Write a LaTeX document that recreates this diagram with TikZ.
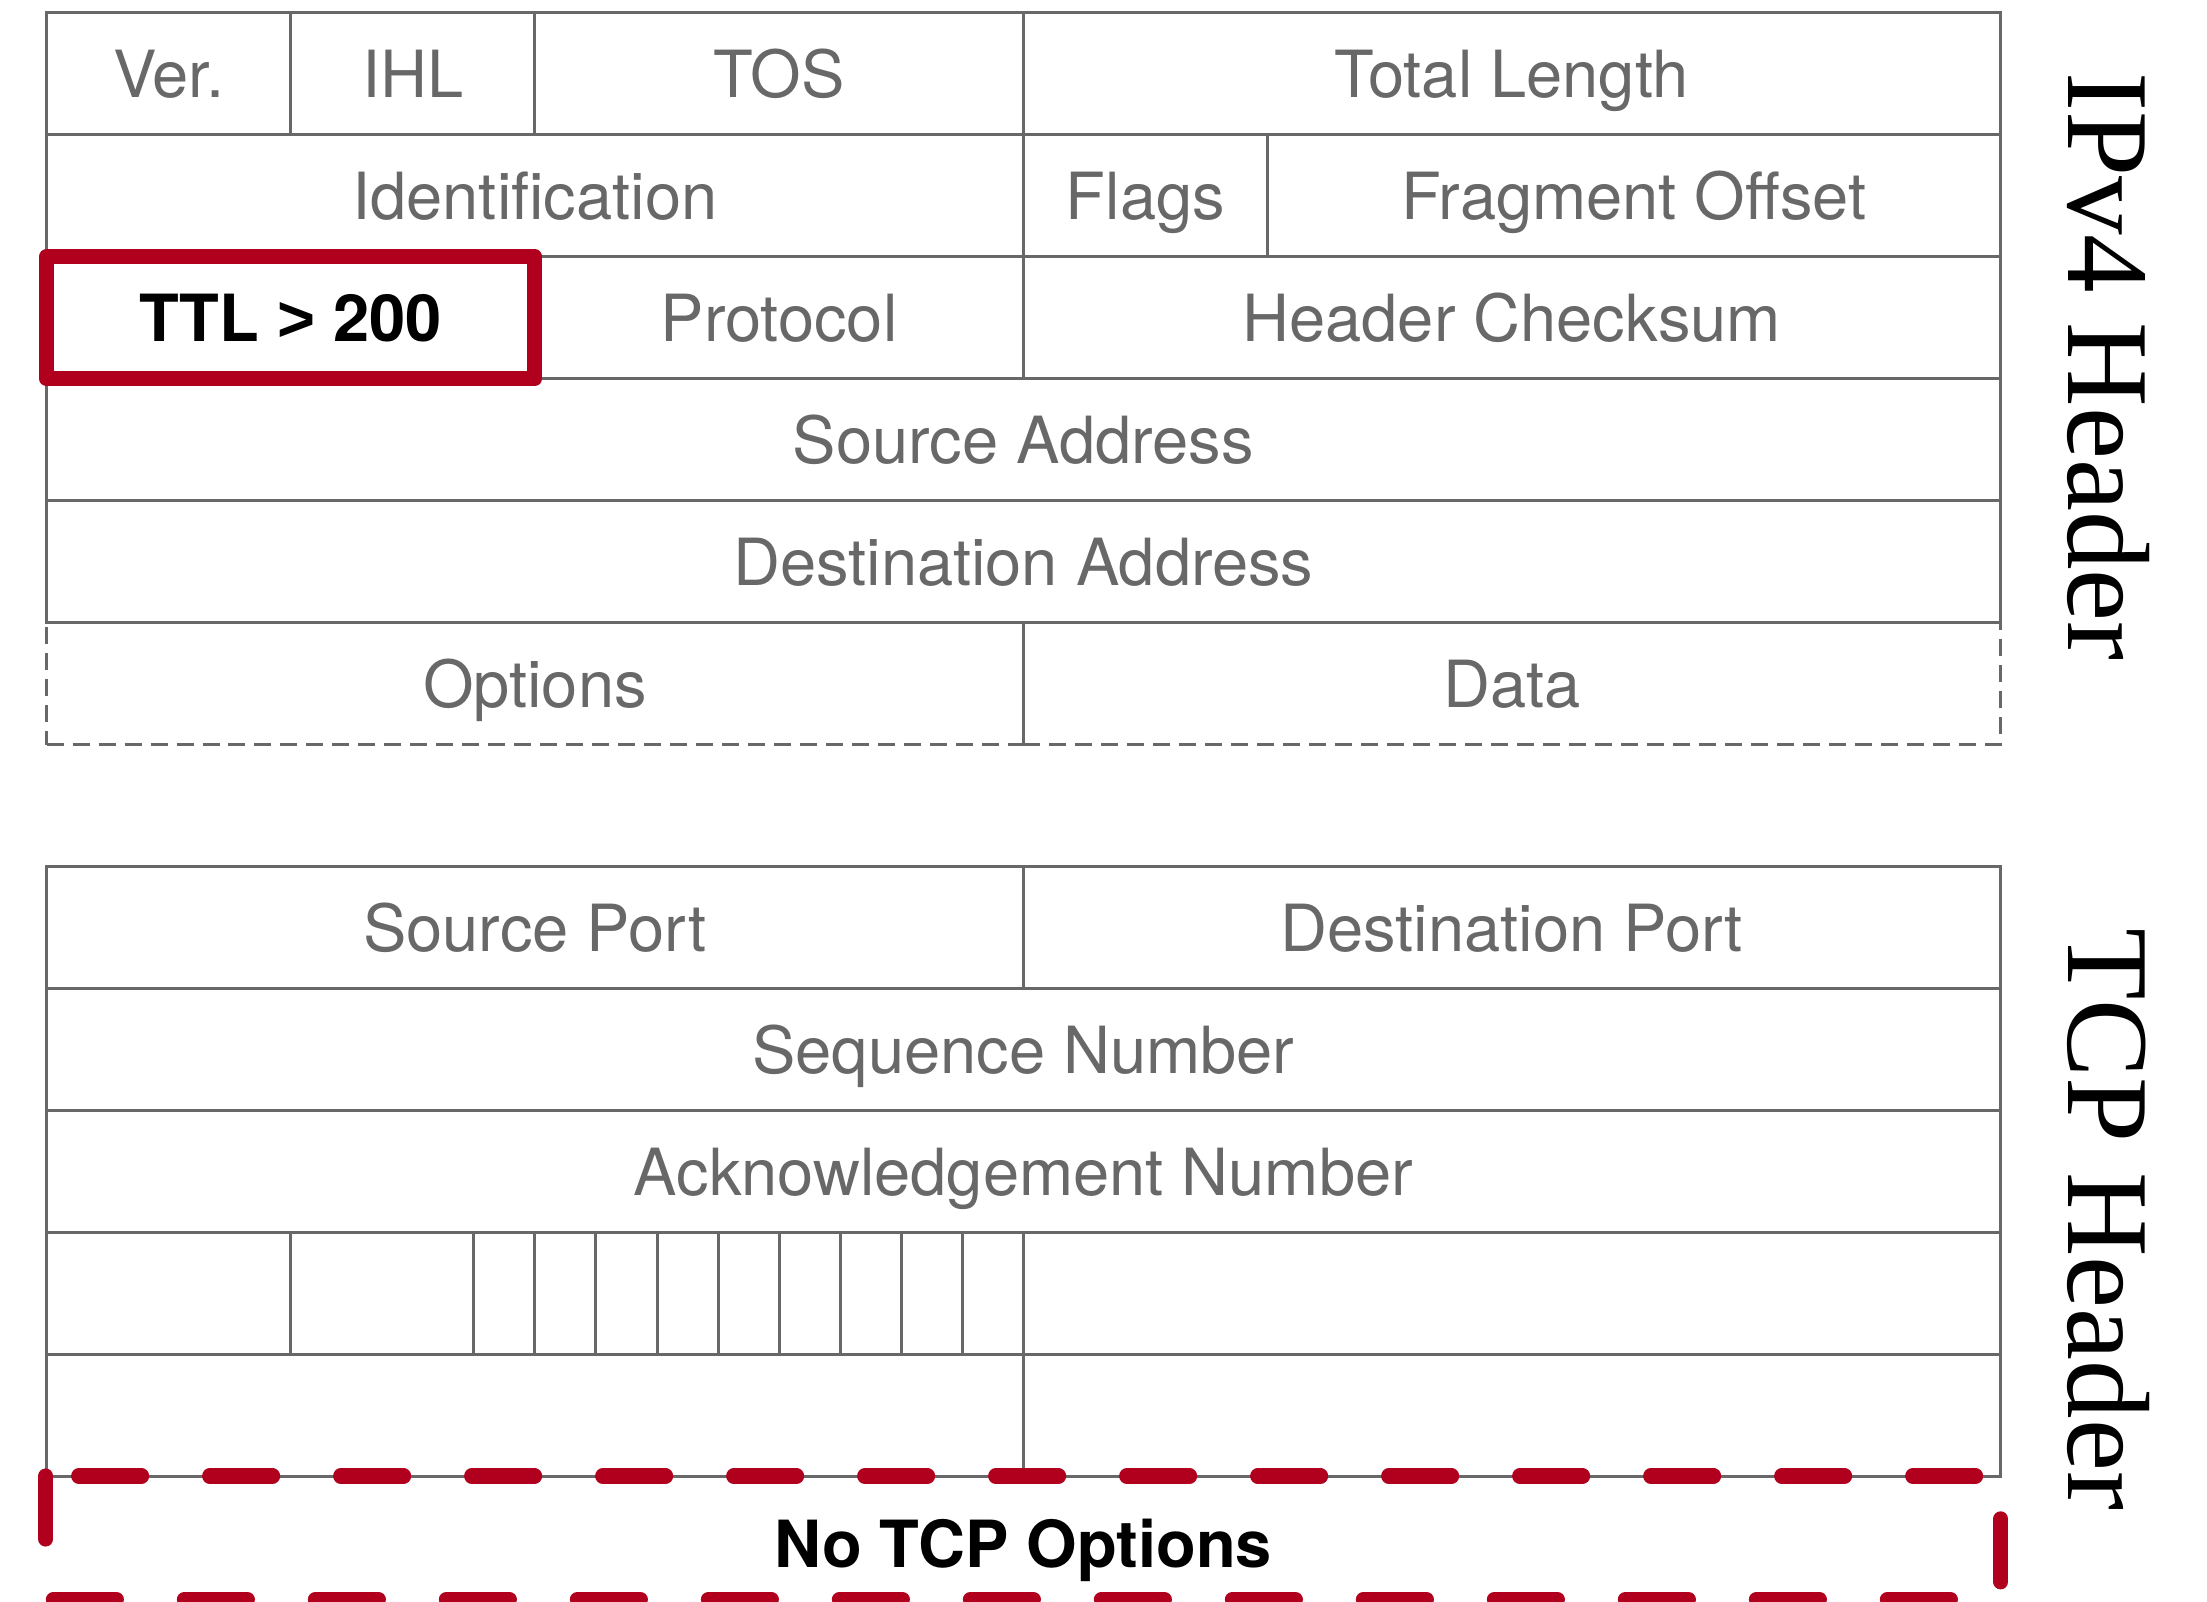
\documentclass[tikz,border=0pt]{standalone}
\usepackage{fontspec}
\setmainfont{TeX Gyre Heros}
\newfontfamily\labelfont{Liberation Serif}
\newfontfamily\gtfont{Liberation Sans}
\definecolor{fieldgray}{RGB}{104,104,104}
\definecolor{alertred}{RGB}{176,0,30}
\newcommand{\bitw}{0.6105cm}
\newcommand{\rowh}{1.22cm}

\begin{document}
\begin{tikzpicture}[x=\bitw, y=\rowh,
    field/.style={draw=fieldgray, line width=0.85pt, text=fieldgray, inner sep=0pt, outer sep=0pt,
      minimum height=\rowh, text height=13.3pt, text depth=0pt, font=\fontsize{18.5}{22}\selectfont},
    optfield/.style={field, dash pattern=on 0.17cm off 0.09cm},
    hit/.style={text=black, text height=13.3pt, text depth=0pt, font=\fontsize{18.5}{22}\selectfont\bfseries},
    alert/.style={alertred, line width=4.3pt, line join=round},
    sidelabel/.style={rotate=-90, inner sep=0pt, font=\labelfont\fontsize{33.3}{40}\selectfont}]
  \useasboundingbox (-0.7617,0.1041) rectangle (35.389,-13.027);
  % IPv4 header
  \foreach \n/\a/\b/\r/\t in {ver/0/4/0/Ver., ihl/4/8/0/IHL, tos/8/16/0/TOS, totlen/16/32/0/Total Length,
      ident/0/16/1/Identification, flags/16/20/1/Flags, fragoff/20/32/1/Fragment Offset,
      proto/8/16/2/Protocol, hcsum/16/32/2/Header Checksum,
      srcaddr/0/32/3/Source Address, dstaddr/0/32/4/Destination Address} {
    \node[field, minimum width={(\b-\a)*\bitw}] (\n) at ({(\a+\b)/2},{-\r-0.5}) {\t};
  }
  \node[optfield, minimum width={16*\bitw}] (options) at (8,-5.5) {Options};
  \node[optfield, minimum width={16*\bitw}] (data) at (24,-5.5) {Data};
  \node[field, hit, minimum width={8*\bitw}] (ttl) at (4,-2.5) {TTL {\gtfont\bfseries>} 200};
  \draw[alert] (ttl.north west) rectangle (ttl.south east);
  % TCP header
  \foreach \n/\a/\b/\r/\t in {srcport/0/16/7/Source Port, dstport/16/32/7/Destination Port,
      seq/0/32/8/Sequence Number, ack/0/32/9/Acknowledgement Number,
      doff/0/4/10/, rsvd/4/7/10/, window/16/32/10/,
      tcpsum/0/16/11/, urgptr/16/32/11/} {
    \node[field, minimum width={(\b-\a)*\bitw}] (\n) at ({(\a+\b)/2},{-\r-0.5}) {\t};
  }
  \foreach \i in {1,...,9} {
    \node[field, minimum width=\bitw] (tf\i) at ({6.5+\i},-10.5) {};
  }
  \node[hit, inner sep=0pt, minimum width={32*\bitw}, minimum height=\rowh] (noopt) at (16,-12.5) {};
  \node[hit, inner sep=0pt] (nooptlbl) at (16,-12.55) {No TCP Options};
  \draw[alert, line cap=round, dash pattern=on 0.63cm off 0.68cm]
    (noopt.north west) -- (noopt.south west) -- (noopt.south east) -- (noopt.north east) -- cycle;
  % side labels
  \node[sidelabel] (ipv4lbl) at (33.78,-2.9) {IPv4 Header};
  \node[sidelabel] (tcplbl) at (33.78,-9.89) {TCP Header};
\end{tikzpicture}
\end{document}
